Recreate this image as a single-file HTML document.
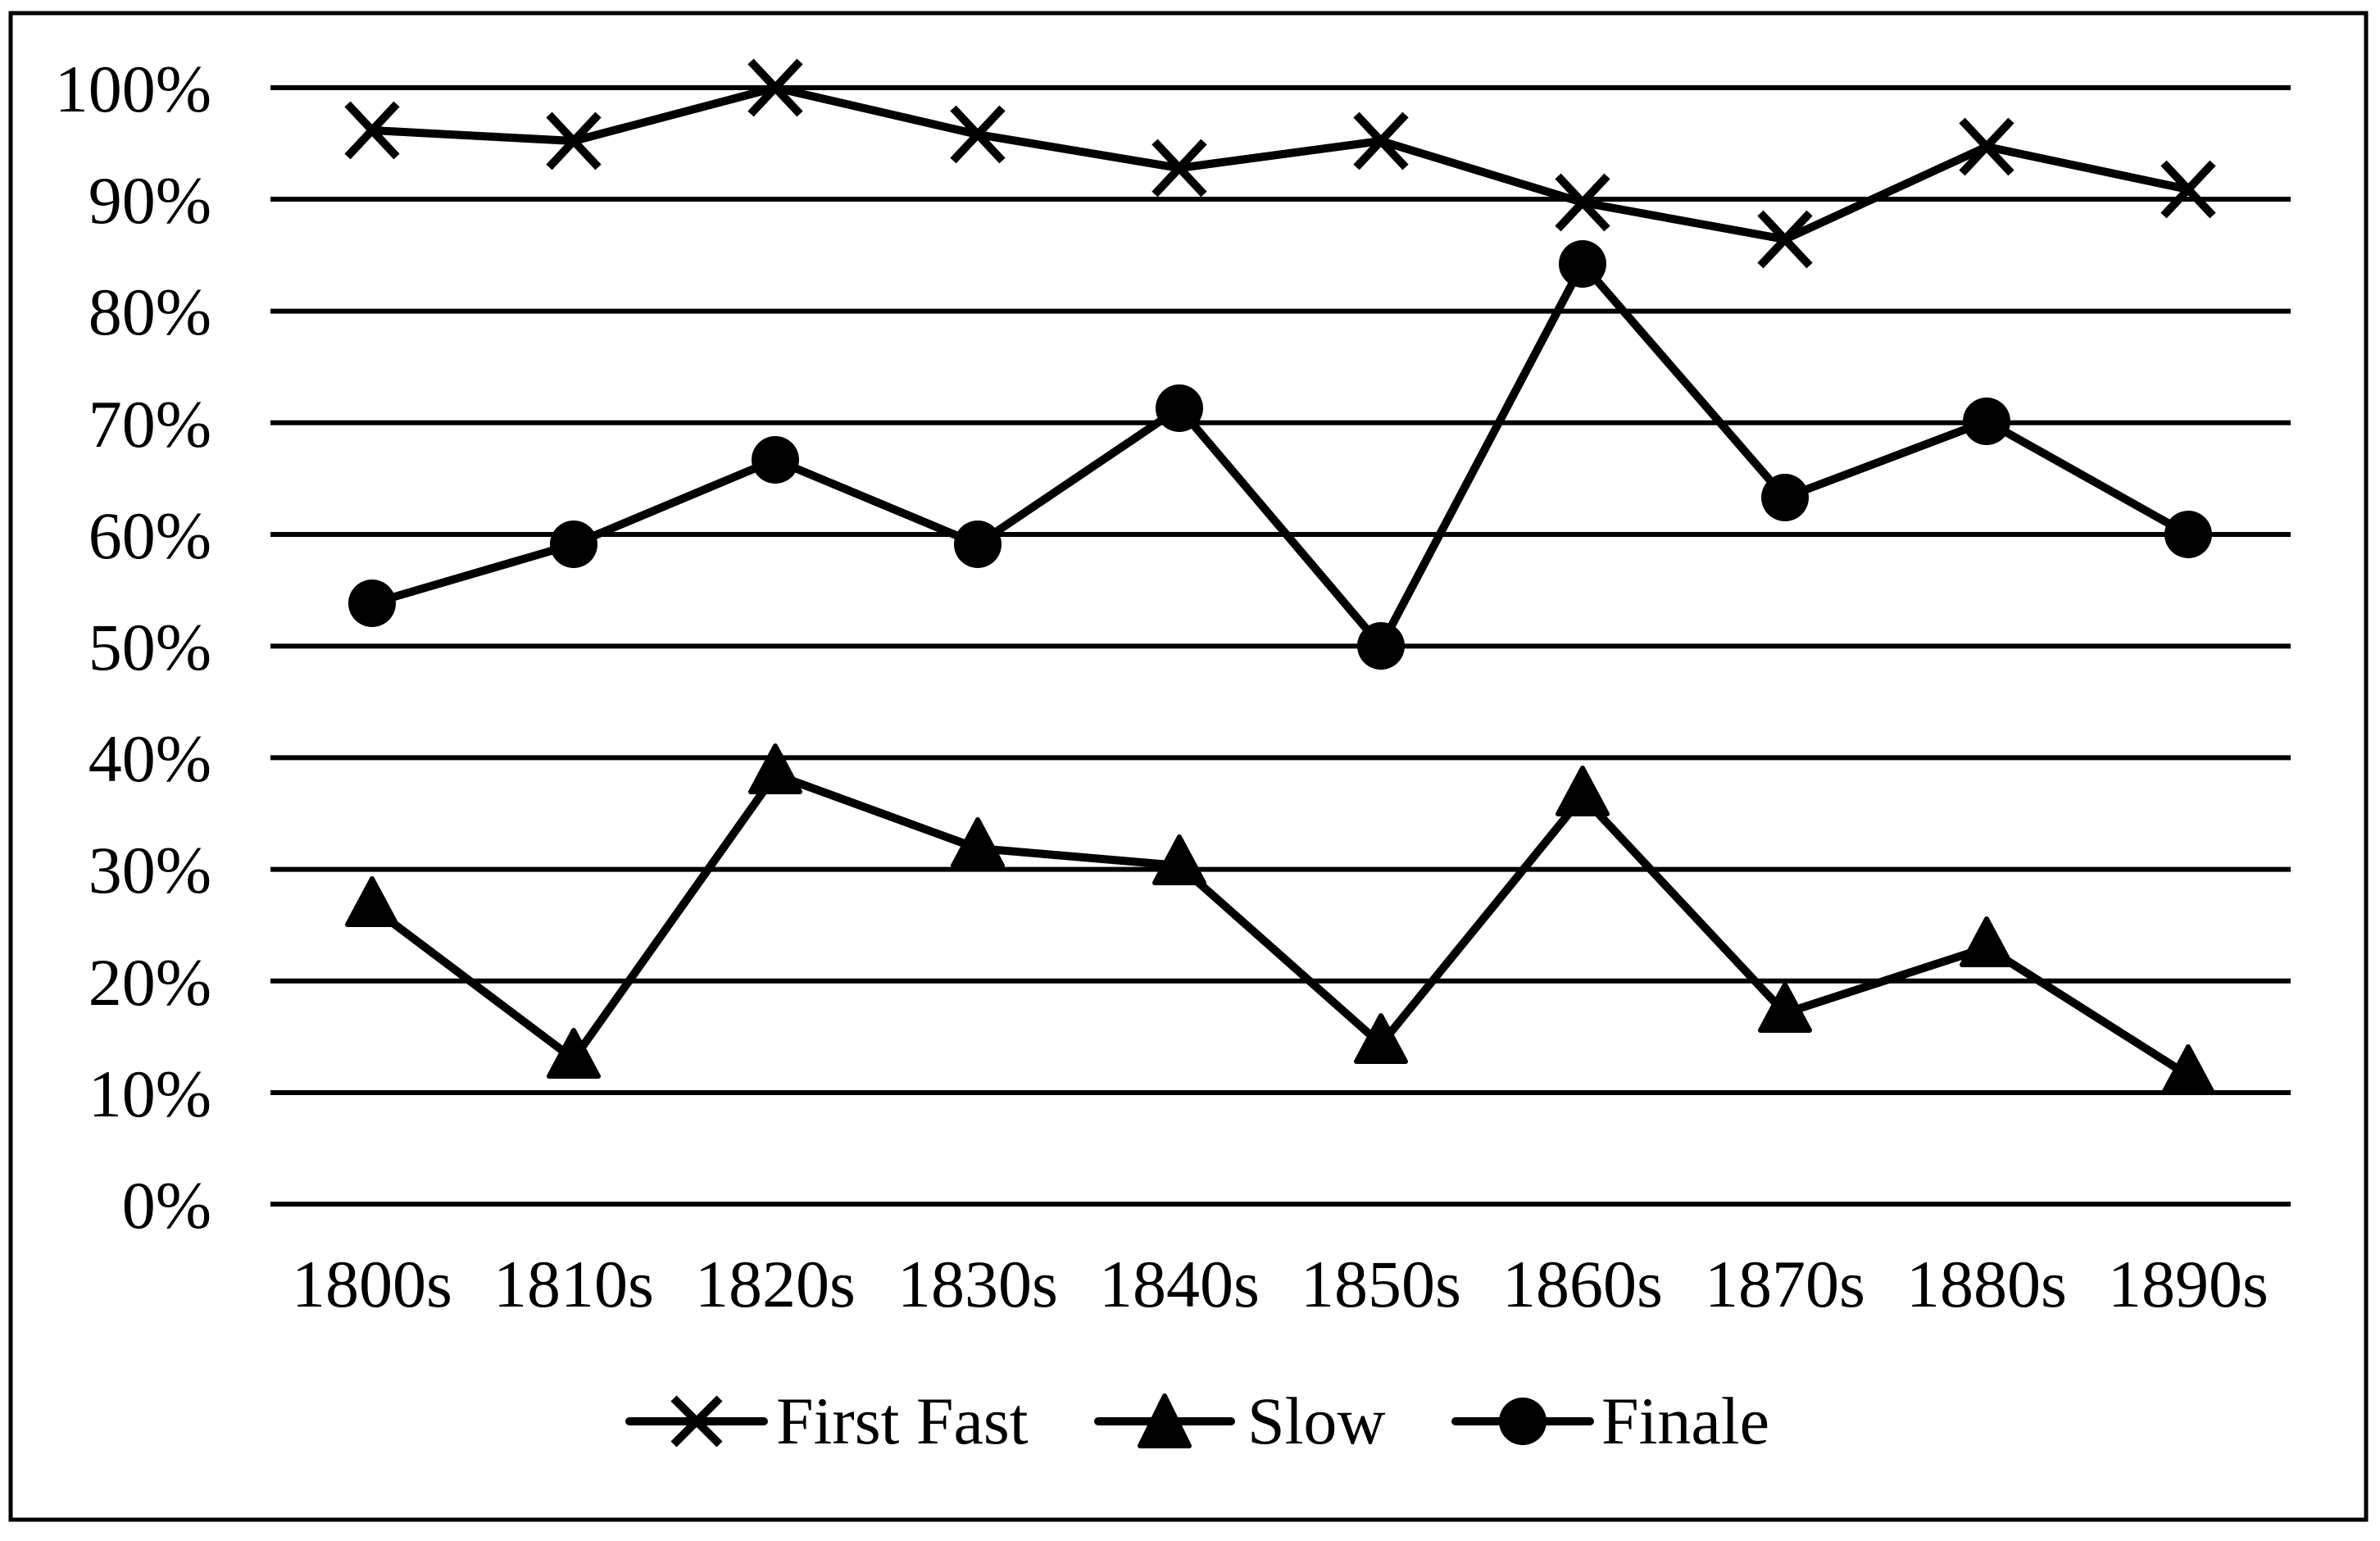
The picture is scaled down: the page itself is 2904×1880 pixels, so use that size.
<!DOCTYPE html>
<html><head><meta charset="utf-8"><style>html,body{margin:0;padding:0;background:#fff}svg{display:block}</style></head>
<body>
<svg xmlns="http://www.w3.org/2000/svg" width="2904" height="1880" viewBox="0 0 2904 1880">
<rect x="0" y="0" width="2904" height="1880" fill="#fff"/>
<rect x="13" y="16" width="2874" height="1838" fill="none" stroke="#000" stroke-width="5"/>
<g stroke="#000" stroke-width="6">
<line x1="330" x2="2795" y1="107" y2="107"/>
<line x1="330" x2="2795" y1="243" y2="243"/>
<line x1="330" x2="2795" y1="379.6" y2="379.6"/>
<line x1="330" x2="2795" y1="515.8" y2="515.8"/>
<line x1="330" x2="2795" y1="652" y2="652"/>
<line x1="330" x2="2795" y1="788.2" y2="788.2"/>
<line x1="330" x2="2795" y1="924.4" y2="924.4"/>
<line x1="330" x2="2795" y1="1060.6" y2="1060.6"/>
<line x1="330" x2="2795" y1="1196.8" y2="1196.8"/>
<line x1="330" x2="2795" y1="1333" y2="1333"/>
<line x1="330" x2="2795" y1="1469" y2="1469"/>
</g>
<g font-family="Liberation Serif, serif" font-size="82" text-anchor="end" fill="#000">
<text x="258" y="136">100%</text>
<text x="258" y="272">90%</text>
<text x="258" y="408">80%</text>
<text x="258" y="545">70%</text>
<text x="258" y="681">60%</text>
<text x="258" y="817">50%</text>
<text x="258" y="953">40%</text>
<text x="258" y="1089">30%</text>
<text x="258" y="1226">20%</text>
<text x="258" y="1362">10%</text>
<text x="258" y="1498">0%</text>
</g>
<g font-family="Liberation Serif, serif" font-size="82" text-anchor="middle" fill="#000">
<text x="454" y="1594">1800s</text>
<text x="700" y="1594">1810s</text>
<text x="946" y="1594">1820s</text>
<text x="1193" y="1594">1830s</text>
<text x="1439" y="1594">1840s</text>
<text x="1685" y="1594">1850s</text>
<text x="1931" y="1594">1860s</text>
<text x="2178" y="1594">1870s</text>
<text x="2424" y="1594">1880s</text>
<text x="2670" y="1594">1890s</text>
</g>
<polyline fill="none" stroke="#000" stroke-width="10" stroke-linejoin="round" points="454,159 700,172 946,107 1193,164 1439,205 1685,172 1931,247 2178,292 2424,179 2670,231"/>
<g stroke="#000" stroke-width="10">
<path d="M424,127 L484,191 M484,127 L424,191"/>
<path d="M670,140 L730,204 M730,140 L670,204"/>
<path d="M916,75 L976,139 M976,75 L916,139"/>
<path d="M1163,132 L1223,196 M1223,132 L1163,196"/>
<path d="M1409,173 L1469,237 M1469,173 L1409,237"/>
<path d="M1655,140 L1715,204 M1715,140 L1655,204"/>
<path d="M1901,215 L1961,279 M1961,215 L1901,279"/>
<path d="M2148,260 L2208,324 M2208,260 L2148,324"/>
<path d="M2394,147 L2454,211 M2454,147 L2394,211"/>
<path d="M2640,199 L2700,263 M2700,199 L2640,263"/>
</g>
<polyline fill="none" stroke="#000" stroke-width="10" stroke-linejoin="round" points="454,736 700,664 946,561 1193,664 1439,498 1685,788 1931,322 2178,607 2424,514 2670,652"/>
<g fill="#000">
<circle cx="454" cy="736" r="29"/><circle cx="700" cy="664" r="29"/><circle cx="946" cy="561" r="29"/><circle cx="1193" cy="664" r="29"/><circle cx="1439" cy="498" r="29"/><circle cx="1685" cy="788" r="29"/><circle cx="1931" cy="322" r="29"/><circle cx="2178" cy="607" r="29"/><circle cx="2424" cy="514" r="29"/><circle cx="2670" cy="652" r="29"/>
</g>
<polyline fill="none" stroke="#000" stroke-width="10" stroke-linejoin="round" points="454,1107 700,1292 946,945 1193,1035 1439,1056 1685,1274 1931,972 2178,1236 2424,1156 2670,1312"/>
<g fill="#000" stroke="#000" stroke-width="6" stroke-linejoin="round">
<path d="M454,1072 L484,1128 L424,1128 Z"/><path d="M700,1257 L730,1313 L670,1313 Z"/><path d="M946,910 L976,966 L916,966 Z"/><path d="M1193,1000 L1223,1056 L1163,1056 Z"/><path d="M1439,1021 L1469,1077 L1409,1077 Z"/><path d="M1685,1239 L1715,1295 L1655,1295 Z"/><path d="M1931,937 L1961,993 L1901,993 Z"/><path d="M2178,1201 L2208,1257 L2148,1257 Z"/><path d="M2424,1121 L2454,1177 L2394,1177 Z"/><path d="M2670,1277 L2700,1333 L2640,1333 Z"/>
</g>
<g stroke="#000" stroke-width="10" stroke-linecap="round">
<line x1="768" x2="932" y1="1734" y2="1734"/>
<line x1="1340" x2="1502" y1="1734" y2="1734"/>
<line x1="1776" x2="1940" y1="1734" y2="1734"/>
</g>
<path d="M822,1706 L878,1762 M878,1706 L822,1762" stroke="#000" stroke-width="10"/>
<path d="M1421,1703 L1451,1764 L1391,1764 Z" fill="#000" stroke="#000" stroke-width="6" stroke-linejoin="round"/>
<circle cx="1858" cy="1734" r="29" fill="#000"/>
<g font-family="Liberation Serif, serif" font-size="82" fill="#000">
<text x="947" y="1761">First Fast</text>
<text x="1522" y="1761">Slow</text>
<text x="1954" y="1761">Finale</text>
</g>
</svg>
</body></html>
